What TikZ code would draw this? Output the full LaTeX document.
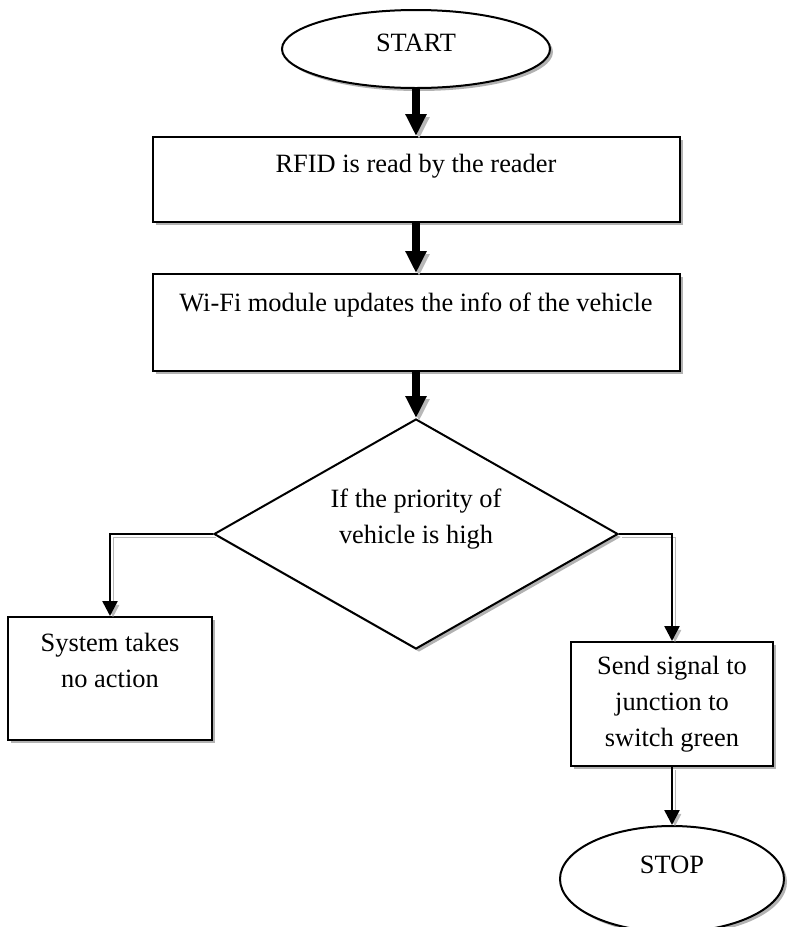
\documentclass[tikz,border=0pt]{standalone}
\usepackage{fontspec}
\setmainfont{Liberation Serif}
\usetikzlibrary{arrows.meta, positioning, shapes.geometric, shadows}

\tikzset{
    boxshadow/.style={drop shadow={shadow xshift=1.5pt, shadow yshift=-1.5pt, fill=black!30, opacity=1}},
    lineshadow/.style={preaction={draw=black!28, transform canvas={shift={(1.5pt,-1.5pt)}}}}
}

\begin{document}
\begin{tikzpicture}[
    every node/.style={font=\fontsize{13.2}{18}\selectfont},
    terminal/.style={draw, line width=1pt, ellipse, fill=white, boxshadow},
    procbox/.style={draw, line width=1pt, rectangle, fill=white, align=center, inner sep=2pt, boxshadow},
    decision/.style={draw, line width=1pt, diamond, aspect=1.75, fill=white, align=center, inner sep=2pt, boxshadow},
    boldarrow/.style={line width=4pt, -{Triangle[width=10pt,length=11pt]}, lineshadow},
    thinarrow/.style={line width=1.25pt, -{Triangle[width=7.5pt,length=7.5pt]}, lineshadow},
    node distance=24pt
]
    \useasboundingbox (0,0) rectangle (394pt,-463.5pt);

    % Main column - relative positioning
    \node[terminal, minimum width=134pt, minimum height=39pt, text depth=6.5pt] (start) at (208pt,-24.5pt) {START};
    \node[procbox, below=23.5pt of start, minimum width=263.5pt, minimum height=42.5pt, text depth=16pt] (rfid) {RFID is read by the reader};
    \node[procbox, below=25pt of rfid, minimum width=263.5pt, minimum height=48.5pt, text depth=20pt] (wifi) {Wi-Fi module updates the info of the vehicle};
    \node[decision, below=23pt of wifi, minimum width=202pt, minimum height=115pt] (decide) {If the priority of\\vehicle is high\\~};

    % Branches - anchored to the diamond corners
    \node[procbox, below=41pt of decide.west, xshift=-51.5pt, minimum width=102pt, minimum height=61.5pt] (noaction) {System takes\\no action\\~};
    \node[procbox, below=53.5pt of decide.east, xshift=26.5pt, minimum width=101pt, minimum height=62pt] (signal) {Send signal to\\junction to\\switch green};
    \node[terminal, below=29pt of signal, minimum width=112pt, minimum height=53pt, text depth=14.5pt] (stop) {STOP};

    % Arrows down the main column
    \draw[boldarrow] (start) -- (rfid);
    \draw[boldarrow] (rfid) -- (wifi);
    \draw[boldarrow] (wifi) -- (decide);

    % Arrows out of the decision
    \draw[thinarrow] (decide.west) -| (noaction.north);
    \draw[thinarrow] (decide.east) -| (signal.north);
    \draw[thinarrow] (signal) -- (stop);
\end{tikzpicture}
\end{document}
